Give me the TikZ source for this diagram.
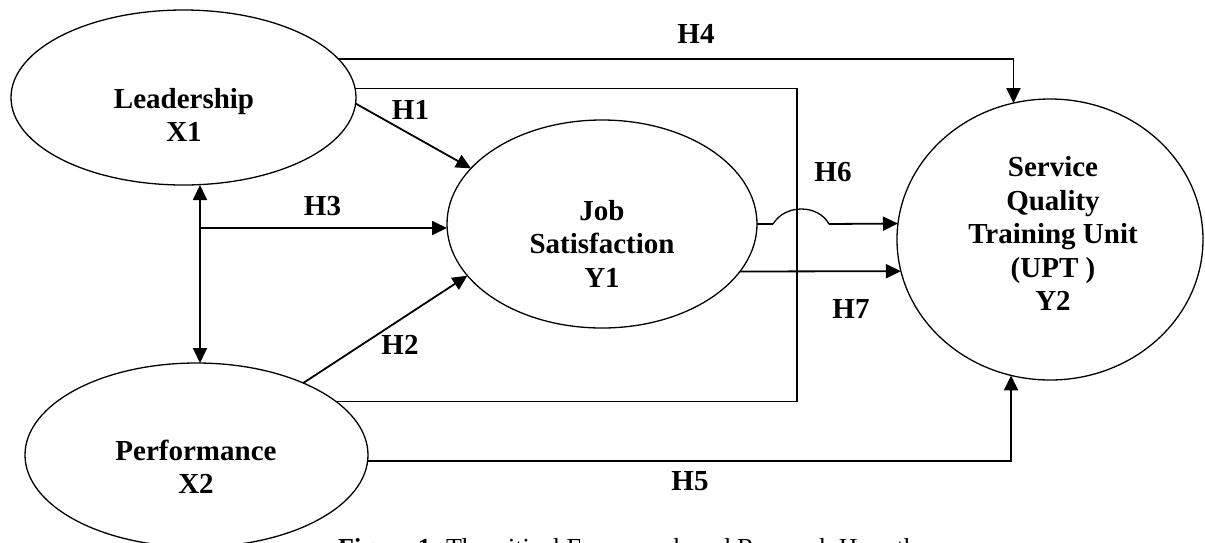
\documentclass[tikz,border=0pt]{standalone}
\usepackage{fontspec}
\setmainfont{Liberation Serif}
\usetikzlibrary{arrows.meta,shapes.geometric}
\tikzset{
  ell/.style={draw, ellipse, line width=1.3pt, inner sep=0pt, outer sep=0pt},
  lbl/.style={font=\fontsize{29}{33.5}\selectfont\bfseries, align=center, inner sep=0pt},
  hyp/.style={font=\fontsize{29}{33.5}\selectfont\bfseries, anchor=base, inner sep=0pt},
  tip/.tip={Triangle[length=15pt,width=14pt]},
  arr/.style={line width=1.8pt, -tip},
  dbl/.style={line width=1.8pt, tip-tip},
  thinline/.style={line width=1.3pt},
}
\begin{document}
\begin{tikzpicture}[x=1pt,y=-1pt]
\useasboundingbox (0,0) rectangle (1205,542);
\clip (0,0) rectangle (1205,542);
% ellipses
\node[ell, minimum width=345pt, minimum height=175pt] (lead) at (183.5,97.5) {};
\node[ell, minimum width=343pt, minimum height=184pt] (perf) at (196.5,455) {};
\node[ell, minimum width=310pt, minimum height=208pt] (job) at (602,224) {};
\node[ell, minimum width=306pt, minimum height=281pt] (svc) at (1050,239.5) {};
% texts
\node[lbl] (leadT) at (184,115) {Leadership\\X1};
\node[lbl] (perfT) at (196,467) {Performance\\X2};
\node[lbl] (jobT) at (602,243.5) {Job\\Satisfaction\\Y1};
\node[lbl] (svcT) at (1053,233.5) {Service\\Quality\\Training Unit\\(UPT )\\Y2};
% coordinates
\coordinate (h3s) at (200,228);
\coordinate (boxc) at (797,240);
\coordinate (hopA) at (773,224);
\coordinate (hopB) at (829,224);
% connectors
\draw[arr] (lead.14.8) -| (svc.105.6);
\draw[thinline] (lead.3.2) -| (boxc) |- (perf.21.3);
\draw[arr] (lead.-2.5) -- (job.157.8);
\draw[arr] (h3s) -- (h3s -| job.west);
\draw[dbl] (lead.south -| h3s) -- (perf.north -| h3s);
\draw[arr] (perf.34.3) -- (job.201.4);
\draw[arr] (perf.-2.7) -| (svc.254.4);
\draw[thinline] (job.east) -- (hopA);
\draw[thinline] (hopA) .. controls (785,204) and (818,204) .. (hopB);
\draw[arr] (hopB) -- (svc.174.2);
\draw[arr] (job.-19.7) -- (svc.192.7);
% hypothesis labels
\node[hyp] (h1) at (410.5,119) {H1};
\node[hyp] (h2) at (400,354) {H2};
\node[hyp] (h3) at (322.5,215) {H3};
\node[hyp] (h4) at (696,43) {H4};
\node[hyp] (h5) at (690,490) {H5};
\node[hyp] (h6) at (833,181) {H6};
\node[hyp] (h7) at (851,318) {H7};
% caption (cut off by the lower edge, as in the reference)
\node[font=\fontsize{26}{30}\selectfont, anchor=base west, inner sep=0pt] (cap) at (338,556) {\textbf{Figure 1.} Theoritical Framework and Research Hypotheses};
\end{tikzpicture}
\end{document}
